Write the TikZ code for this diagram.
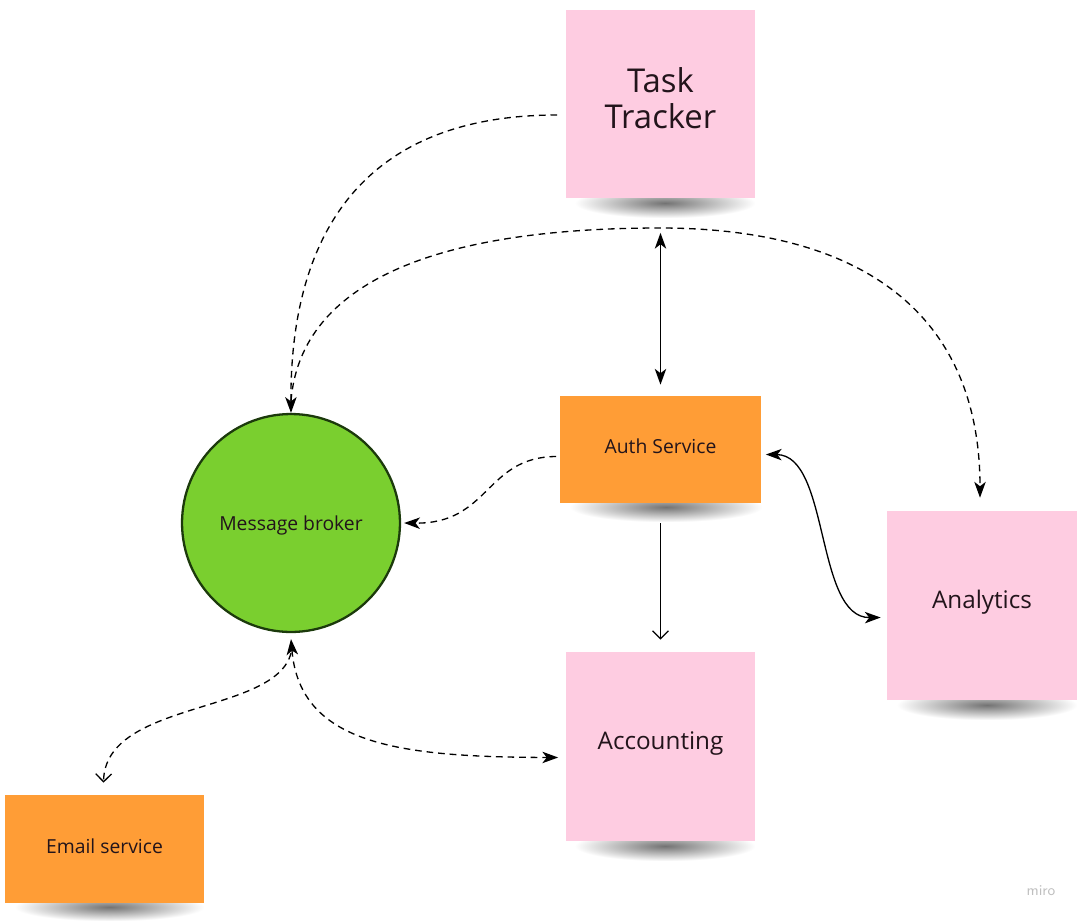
\documentclass[tikz,border=0pt]{standalone}
\usepackage{fontspec}
\setmainfont{Open Sans}
\usetikzlibrary{arrows.meta,fadings,calc}
\definecolor{stickypink}{HTML}{FECCE1}
\definecolor{stickyorange}{HTML}{FF9D36}
\definecolor{brokergreen}{HTML}{7ACF2F}
\definecolor{brokerline}{HTML}{1C3A0C}
\definecolor{inktext}{HTML}{22141B}
\tikzfading[name=softblob, inner color=transparent!45, outer color=transparent!100]
\begin{document}
\begin{tikzpicture}[x=0.02cm,y=-0.02cm,
  note/.style={inner sep=0pt, align=center, text=inktext},
  pinknote/.style={note, fill=stickypink, minimum width=3.8cm, minimum height=3.78cm},
  orangenote/.style={note, fill=stickyorange, minimum width=4.04cm, minimum height=2.14cm},
  bigtext/.style={font=\fontsize{18.7}{20.5}\selectfont},
  midtext/.style={font=\fontsize{13.8}{16}\selectfont},
  smalltext/.style={font=\fontsize{11}{13}\selectfont},
  shade/.style={fill=black, path fading=softblob},
  dashlink/.style={draw=black, line width=0.75pt, dash pattern=on 3.8pt off 2.8pt},
  solidlink/.style={draw=black, line width=0.75pt},
]
\useasboundingbox (0,0) rectangle (1082,923);

% soft shadows under the sticky notes
\fill[shade] (575,188) rectangle (755,218);
\fill[shade] (570,492) rectangle (762,522);
\fill[shade] (897,690) rectangle (1077,720);
\fill[shade] (575,831) rectangle (755,861);
\fill[shade] (15,893) rectangle (204,921);

% nodes
\node[pinknote] (tt) at (660.5,104) {};
\node[note, bigtext] (ttl) at ($(tt.center)+(0,-6)$) {Task\\Tracker};
\node[orangenote] (as) at (660.5,449.5) {};
\node[note, smalltext] (asl) at ($(as.center)+(0,-3)$) {Auth Service};
\node[pinknote] (an) at (982,605.5) {};
\node[note, midtext] (anl) at ($(an.center)+(0,-3)$) {Analytics};
\node[pinknote] (ac) at (660.5,746.5) {};
\node[note, midtext] (acl) at ($(ac.center)+(0,-3)$) {Accounting};
\node[orangenote, minimum width=3.98cm, minimum height=2.16cm] (em) at (104.5,849) {};
\node[note, smalltext] (eml) at ($(em.center)+(0,-3)$) {Email service};
\node[circle, draw=brokerline, line width=1.3pt, fill=brokergreen, minimum size=4.36cm,
      note, smalltext] (mb) at (291,523) {};
\node[note, smalltext] (mbl) at ($(mb.center)+(0,2)$) {Message broker};
\node[text=black!25, font=\sffamily\fontsize{8.5}{10}\selectfont] (wm) at (1041,891) {miro};

% connectors
\draw[dashlink, -{Stealth[length=9pt,width=6.5pt,inset=2.5pt]}]
  ($(tt.west)+(-8,11)$) .. controls (350,115) and (290,250) .. (mb.north);
\draw[dashlink, -{Stealth[length=9pt,width=6.5pt,inset=2.5pt]}]
  ($(mb.north)+(0,-12)$) .. controls (300,290) and (420,228) .. (660,228)
  .. controls (870,228) and (980,320) .. ($(an.north)+(-2,-13)$);
\draw[solidlink, {Stealth[length=9pt,width=6.5pt,inset=2.5pt]}-{Stealth[length=9pt,width=6.5pt,inset=2.5pt]}]
  ($(tt.south)+(0,34)$) -- ($(as.north)+(0,-11)$);
\draw[dashlink, -{Stealth[length=9pt,width=6.5pt,inset=2.5pt]}]
  ($(as.west)+(-3,7)$) .. controls (485,457) and (490,524) .. ($(mb.east)+(3,0)$);
\draw[solidlink, -{Straight Barb[length=4.5pt,width=9pt]}]
  ($(as.south)+(0,20)$) -- ($(ac.north)+(0,-12)$);
\draw[solidlink, {Stealth[length=9pt,width=6.5pt,inset=2.5pt]}-{Stealth[length=9pt,width=6.5pt,inset=2.5pt]}]
  ($(as.east)+(4,5)$) .. controls (830,455) and (815,618) .. ($(an.west)+(-6,12)$);
\draw[dashlink, -{Straight Barb[length=4.5pt,width=9pt]}]
  ($(mb.south)+(0,20)$) .. controls (275,715) and (105,700) .. ($(em.north)+(-1,-12)$);
\draw[dashlink, {Stealth[length=9pt,width=6.5pt,inset=2.5pt]}-{Stealth[length=9pt,width=6.5pt,inset=2.5pt]}]
  ($(mb.south)+(0,6)$) .. controls (300,745) and (400,757) .. ($(ac.west)+(-7,11)$);
\end{tikzpicture}
\end{document}
